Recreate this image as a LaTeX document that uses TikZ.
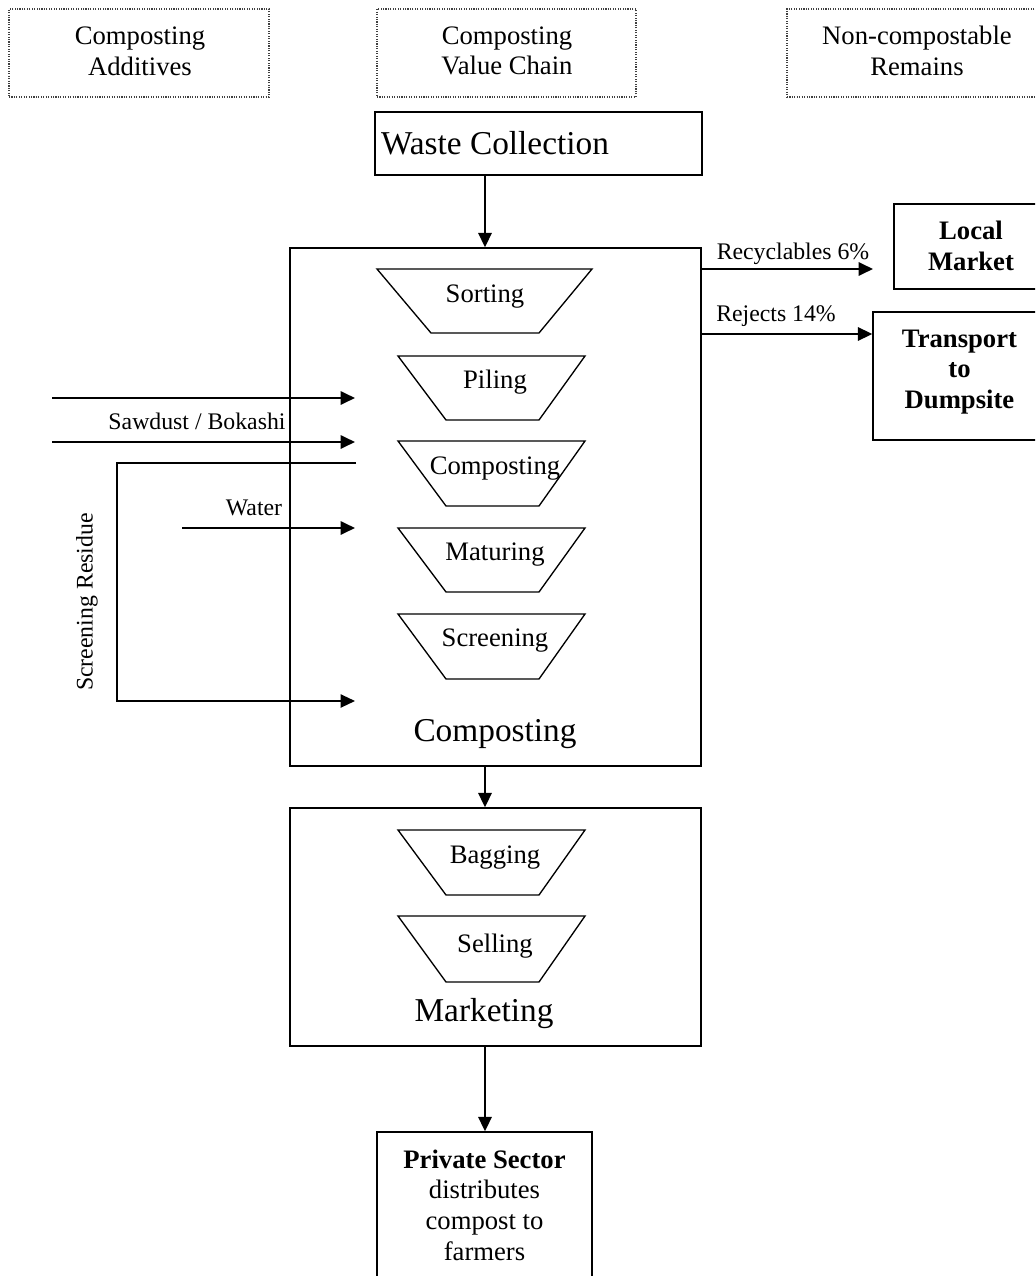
\documentclass[tikz,border=0pt]{standalone}
\usepackage{fontspec}
\setmainfont{Liberation Serif}
\usetikzlibrary{arrows.meta}
\begin{document}
\begin{tikzpicture}[x=0.45pt,y=-0.45pt,
  boxline/.style={draw, line width=0.6pt, inner sep=0pt},
  dotbox/.style={draw=black!75, line width=0.55pt, dash pattern=on 0.5pt off 0.6pt, inner sep=0pt},
  pbox/.style n args={4}{minimum width={(#3-#1)*0.45pt}, minimum height={(#4-#2)*0.45pt}},
  trap/.style={draw, line width=0.6pt, line join=miter},
  arr/.style={-{Triangle[length=6.5pt,width=6pt]}, line width=0.95pt},
  thinarr/.style={-{Triangle[length=6.5pt,width=6pt]}, line width=0.6pt},
  lbl/.style={font=\fontsize{12}{13.8}\selectfont, align=center, inner sep=0pt},
  big/.style={font=\fontsize{15}{17}\selectfont, align=center, inner sep=0pt},
  small/.style={font=\fontsize{10.7}{12.5}\selectfont, align=center, inner sep=0pt},
  bold/.style={font=\fontsize{12}{13.9}\selectfont\bfseries, align=center, inner sep=0pt}
]
\useasboundingbox (0,0) rectangle (1035,1276);
\clip (0,0) rectangle (1035,1276);

% header boxes
\node[dotbox, pbox={9}{9}{269}{97}] (h1) at (139,53) {};
\node[lbl] (h1t) at (140,51) {Composting\\Additives};
\node[dotbox, pbox={377}{9}{636}{97}] (h2) at (506.5,53) {};
\node[lbl] (h2t) at (507,51) {Composting\\Value Chain};
\node[dotbox, pbox={787}{9}{1050}{97}] (h3) at (918.5,53) {};
\node[lbl] (h3t) at (917,51) {Non-compostable\\Remains};

% main boxes
\node[boxline, pbox={375}{112}{702}{175}] (wc) at (538.5,143.5) {};
\node[big] (wct) at (495,143) {Waste Collection};
\node[boxline, pbox={290}{248}{701}{766}] (comp) at (495.5,507) {};
\node[big] (compt) at (495,734) {Composting};
\node[boxline, pbox={290}{808}{701}{1046}] (mkt) at (495.5,927) {};
\node[big] (mktt) at (484,1014) {Marketing};
\node[boxline, pbox={377}{1132}{592}{1320}] (ps) at (484.5,1226) {};
\node[lbl] (pst) at (484.5,1205) {\textbf{Private Sector}\\distributes\\compost to\\farmers};

\node[boxline, pbox={894}{204}{1048}{289}] (lm) at (971,246.5) {};
\node[bold] (lmt) at (971,246) {Local\\Market};
\node[boxline, pbox={873}{312}{1046}{440}] (tr) at (959.5,376) {};
\node[bold] (trt) at (959.5,372) {Transport\\to\\Dumpsite};

% trapezoids
\draw[trap] (377,269) -- (592,269) -- (539,333) -- (431,333) -- cycle;
\node[lbl] (t1) at (485,297) {Sorting};
\draw[trap] (398,356) -- (585,356) -- (539,420) -- (446,420) -- cycle;
\node[lbl] (t2) at (495,382) {Piling};
\draw[trap] (398,441) -- (585,441) -- (539,506) -- (446,506) -- cycle;
\node[lbl] (t3) at (495,469) {Composting};
\draw[trap] (398,528) -- (585,528) -- (539,592) -- (446,592) -- cycle;
\node[lbl] (t4) at (495,555) {Maturing};
\draw[trap] (398,614) -- (585,614) -- (539,679) -- (446,679) -- cycle;
\node[lbl] (t5) at (495,641) {Screening};
\draw[trap] (398,830) -- (585,830) -- (539,895) -- (446,895) -- cycle;
\node[lbl] (t6) at (495,858) {Bagging};
\draw[trap] (398,916) -- (585,916) -- (539,982) -- (446,982) -- cycle;
\node[lbl] (t7) at (495,946) {Selling};

% vertical flow
\coordinate (ax) at (485,0);
\draw[arr] (wc.south -| ax) -- (comp.north -| ax);
\draw[arr] (comp.south -| ax) -- (mkt.north -| ax);
\draw[arr] (mkt.south -| ax) -- (ps.north -| ax);

% outputs
\coordinate (rc) at (873,269);
\draw[arr] (rc -| comp.east) -- (rc);
\node[small] (rcl) at (793,254) {Recyclables 6\%};
\coordinate (rj) at (0,334);
\draw[arr] (rj -| comp.east) -- (rj -| tr.west);
\node[small] (rjl) at (776,316) {Rejects 14\%};

% inputs
\coordinate (s1a) at (52,398);
\coordinate (s1b) at (355,398);
\coordinate (s2a) at (52,442);
\coordinate (s2b) at (355,442);
\draw[arr] (s1a) -- (s1b);
\draw[arr] (s2a) -- (s2b);
\node[small] (sbl) at (197,421) {Sawdust / Bokashi};
\coordinate (wa) at (182,528);
\coordinate (wb) at (355,528);
\draw[arr] (wa) -- (wb);
\node[small] (wl) at (254,508) {Water};
\coordinate (r1) at (356,463);
\coordinate (r2) at (117,463);
\coordinate (r3) at (117,701);
\coordinate (r4) at (355,701);
\draw[thinarr] (r1) -- (r2) -- (r3) -- (r4);
\node[small, rotate=90] (rl) at (87,602) {Screening Residue};
\end{tikzpicture}
\end{document}
